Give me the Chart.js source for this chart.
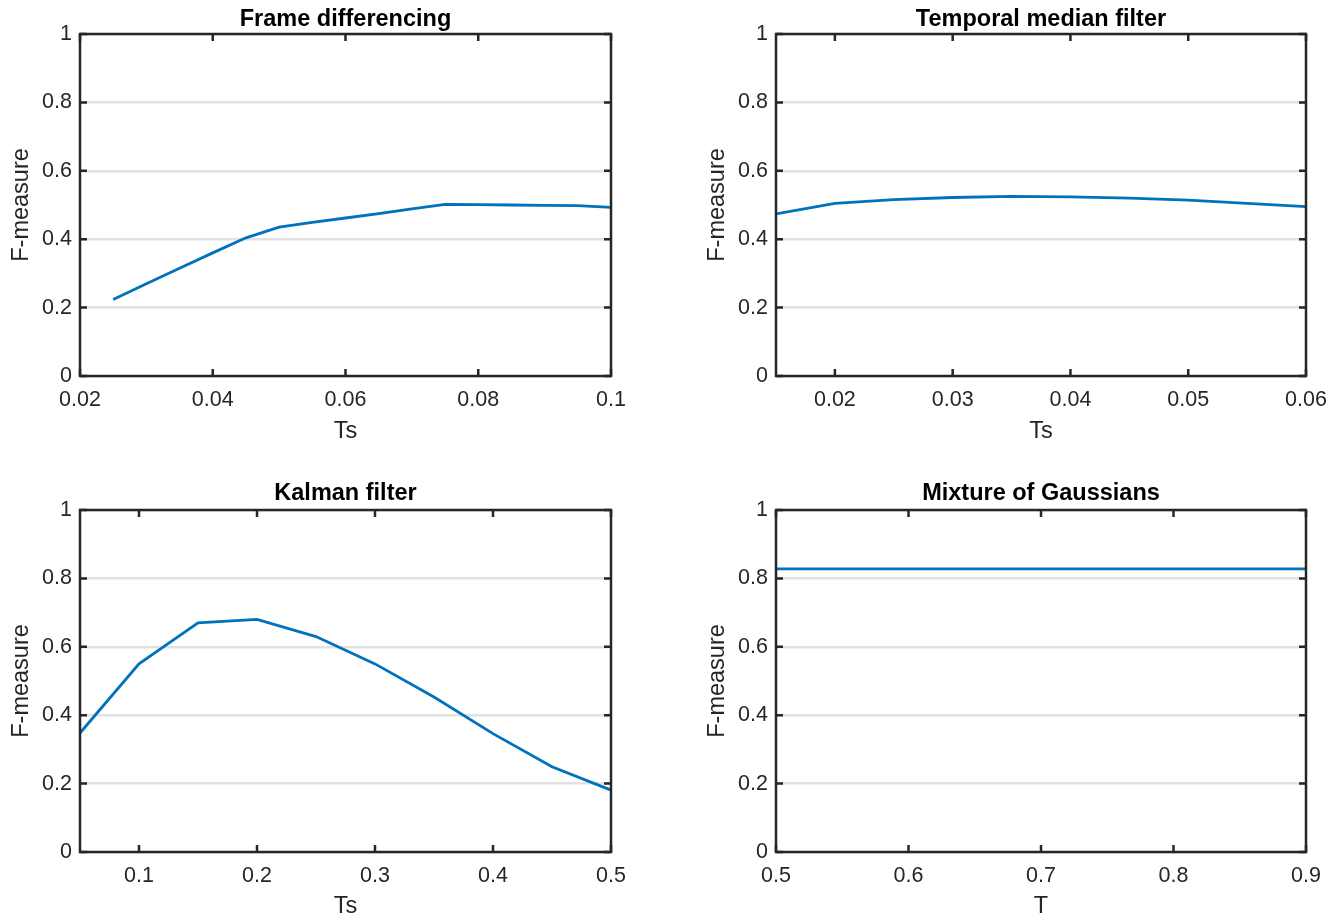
<!DOCTYPE html>
<html>
<head>
<meta charset="utf-8">
<script src="https://cdn.jsdelivr.net/npm/chart.js@4"></script>
<style>
  body { margin: 0; background: #fff; }
  #wrap { position: relative; width: 1340px; height: 920px; }
  .cell { position: absolute; width: 670px; height: 460px; }
</style>
</head>
<body>
<div id="wrap">
  <div class="cell" style="left:0;top:0"><canvas id="fd" width="670" height="460"></canvas></div>
  <div class="cell" style="left:670px;top:0"><canvas id="tm" width="670" height="460"></canvas></div>
  <div class="cell" style="left:0;top:460px"><canvas id="kf" width="670" height="460"></canvas></div>
  <div class="cell" style="left:670px;top:460px"><canvas id="mog" width="670" height="460"></canvas></div>
</div>
<script>
// data
const fdTs = [0.025, 0.03, 0.035, 0.04, 0.045, 0.05, 0.055, 0.06, 0.065, 0.07, 0.075, 0.08, 0.085, 0.09, 0.095, 0.1];
const fdF  = [0.224, 0.27, 0.315, 0.36, 0.404, 0.435, 0.449, 0.462, 0.475, 0.489, 0.502, 0.501, 0.5, 0.499, 0.498, 0.493];

const tmTs = [0.015, 0.02, 0.025, 0.03, 0.035, 0.04, 0.045, 0.05, 0.055, 0.06];
const tmF  = [0.474, 0.505, 0.516, 0.522, 0.525, 0.524, 0.52, 0.514, 0.505, 0.495];

const kfTs = [0.05, 0.1, 0.15, 0.2, 0.25, 0.3, 0.35, 0.4, 0.45, 0.5];
const kfF  = [0.348, 0.55, 0.67, 0.68, 0.63, 0.55, 0.453, 0.346, 0.249, 0.181];

const mogT = [0.5, 0.6, 0.7, 0.8, 0.9];
const mogF = [0.828, 0.828, 0.828, 0.828, 0.828];

const yTicks    = [0, 0.2, 0.4, 0.6, 0.8, 1];
const fdXTicks  = [0.02, 0.04, 0.06, 0.08, 0.1];
const tmXTicks  = [0.02, 0.03, 0.04, 0.05, 0.06];
const kfXTicks  = [0.1, 0.2, 0.3, 0.4, 0.5];
const mogXTicks = [0.5, 0.6, 0.7, 0.8, 0.9];

const FONT = '"Liberation Sans", Arial, Helvetica, sans-serif';
const INK = '#262626';

// box + inward tick marks, matlab style
const framePlugin = {
  id: 'frame',
  afterDraw(chart) {
    const { ctx, chartArea: a } = chart;
    const x = chart.scales.x, y = chart.scales.y;
    ctx.save();
    ctx.strokeStyle = INK;
    ctx.lineWidth = 2.5;
    ctx.beginPath();
    x.ticks.forEach(t => {
      const px = x.getPixelForValue(t.value);
      ctx.moveTo(px, a.bottom); ctx.lineTo(px, a.bottom - 7);
      ctx.moveTo(px, a.top); ctx.lineTo(px, a.top + 7);
    });
    y.ticks.forEach(t => {
      const py = y.getPixelForValue(t.value);
      ctx.moveTo(a.left, py); ctx.lineTo(a.left + 7, py);
      ctx.moveTo(a.right, py); ctx.lineTo(a.right - 7, py);
    });
    ctx.stroke();
    ctx.strokeRect(a.left, a.top, a.right - a.left, a.bottom - a.top);
    ctx.restore();
  }
};

const fmt = v => String(+v.toFixed(3));

function makeChart(id, title, xLabel, xs, ys, xMin, xMax, xTicks, row, col) {
  const top = row === 0;
  new Chart(document.getElementById(id), {
    type: 'line',
    data: {
      datasets: [{
        data: xs.map((v, i) => ({ x: v, y: ys[i] })),
        borderColor: '#0072BD',
        borderWidth: 2.8,
        pointRadius: 0,
        tension: 0,
        fill: false
      }]
    },
    options: {
      responsive: false,
      animation: false,
      layout: { padding: { left: col === 0 ? 0 : 26, right: col === 0 ? 59 : 34, top: top ? 0 : 14, bottom: 0 } },
      plugins: {
        legend: { display: false },
        tooltip: { enabled: false },
        title: {
          display: true,
          text: title,
          color: '#000',
          fullSize: false,   // centre over the plot box, not the canvas
          font: { family: FONT, size: 23.5, weight: 'bold', lineHeight: 1 },
          padding: { top: 8.25, bottom: top ? 2.25 : 4.25 }
        }
      },
      scales: {
        x: {
          type: 'linear',
          min: xMin,
          max: xMax,
          afterBuildTicks: s => { s.ticks = xTicks.map(v => ({ value: v })); },
          afterFit: s => { s.height = top ? 84 : 68; },
          grid: { display: false, drawTicks: false },
          border: { display: false },
          ticks: { color: INK, padding: 11, font: { family: FONT, size: 21.5 }, callback: fmt, maxRotation: 0 },
          title: { display: true, text: xLabel, color: INK, font: { family: FONT, size: 23.5, lineHeight: 1 }, padding: { top: 0, bottom: top ? 17 : 1.5 } }
        },
        y: {
          type: 'linear',
          min: 0,
          max: 1,
          afterBuildTicks: s => { s.ticks = yTicks.map(v => ({ value: v })); },
          afterFit: s => { s.width = 80; },
          grid: { color: '#e2e2e2', lineWidth: 2.5, drawTicks: false },
          border: { display: false },
          ticks: { color: INK, padding: 8, font: { family: FONT, size: 21.5 }, callback: fmt },
          title: { display: true, text: 'F-measure', color: INK, font: { family: FONT, size: 23.5, lineHeight: 1 }, padding: { top: 10, bottom: 0 } }
        }
      }
    },
    plugins: [framePlugin]
  });
}

makeChart('fd', 'Frame differencing', 'Ts', fdTs, fdF, 0.02, 0.1, fdXTicks, 0, 0);
makeChart('tm', 'Temporal median filter', 'Ts', tmTs, tmF, 0.015, 0.06, tmXTicks, 0, 1);
makeChart('kf', 'Kalman filter', 'Ts', kfTs, kfF, 0.05, 0.5, kfXTicks, 1, 0);
makeChart('mog', 'Mixture of Gaussians', 'T', mogT, mogF, 0.5, 0.9, mogXTicks, 1, 1);
</script>
</body>
</html>
